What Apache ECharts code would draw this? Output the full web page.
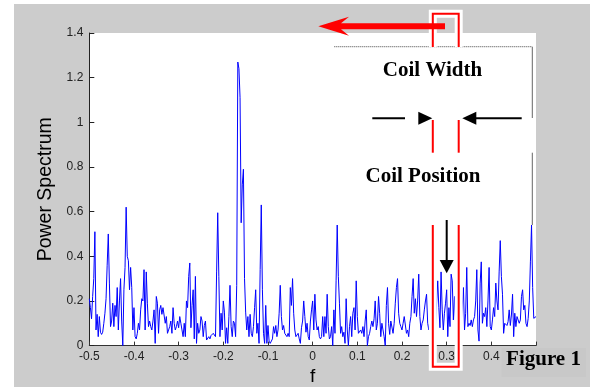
<!DOCTYPE html>
<html><head><meta charset="utf-8">
<script src="https://cdn.jsdelivr.net/npm/echarts@6/dist/echarts.min.js"></script>
<style>
html,body{margin:0;padding:0;background:#fff;width:595px;height:387px;overflow:hidden}
#c{position:absolute;left:14px;top:4px;width:576px;height:383px}
</style>
</head><body><div id="c"></div>
<script>
// frequency grid of the spectrum
const fStart = -0.5, fStep = 0.0025;
// power spectrum values
const power = [
0.21,0.17,0.12,0.22,0.30,0.51,0.07,0.14,0.04,0.13,
0.06,0.05,0.06,0.10,0.145,0.21,0.36,0.50,0.28,0.085,
0.11,0.19,0.085,0.18,0.13,0.26,0.07,0.20,0.30,0.11,
0.00,0.25,0.35,0.62,0.40,0.38,0.25,0.35,0.26,0.07,
0.17,0.04,0.03,0.055,0.10,0.07,0.16,0.21,0.20,0.34,
0.07,0.33,0.19,0.085,0.11,0.085,0.07,0.11,0.16,0.01,
0.22,0.19,0.055,0.16,0.18,0.14,0.17,0.17,0.10,0.13,
0.055,0.07,0.085,0.11,0.055,0.17,0.10,0.07,0.085,0.11,
0.08,0.13,0.10,0.07,0.04,0.10,0.04,0.20,0.17,0.31,
0.37,0.08,0.18,0.25,0.03,0.31,0.01,0.10,0.055,0.07,
0.13,0.11,0.04,0.09,0.11,0.025,0.03,0.04,0.03,0.045,
0.04,0.055,0.055,0.04,0.33,0.595,0.31,0.04,0.145,0.07,
0.20,0.15,0.01,0.08,0.01,0.13,0.27,0.085,0.04,0.11,
0.10,0.04,0.27,1.27,1.24,1.11,0.55,0.72,0.79,0.30,
0.15,0.07,0.13,0.04,0.14,0.055,0.04,0.085,0.17,0.25,
0.055,0.10,0.01,0.34,0.63,0.25,0.055,0.01,0.18,0.01,
0.09,0.02,0.01,0.01,0.03,0.085,0.055,0.09,0.04,0.07,
0.145,0.27,0.13,0.07,0.09,0.055,0.06,0.04,0.055,0.04,
0.26,0.18,0.30,0.145,0.07,0.04,0.04,0.055,0.03,0.01,
0.08,0.11,0.20,0.13,0.06,0.10,0.04,0.025,0.11,0.16,
0.20,0.07,0.23,0.115,0.07,0.085,0.04,0.03,0.04,0.13,
0.04,0.13,0.055,0.23,0.085,0.03,0.04,0.085,0.0,0.16,
0.055,0.29,0.54,0.31,0.19,0.055,0.085,0.04,0.06,0.01,
0.21,0.07,0.0,0.085,0.13,0.04,0.145,0.17,0.07,0.29,
0.13,0.055,0.055,0.07,0.055,0.085,0.04,0.11,0.16,0.0,
0.04,0.055,0.085,0.11,0.085,0.12,0.20,0.07,0.10,0.22,
0.145,0.04,0.10,0.07,0.04,0.0,0.18,0.26,0.10,0.05,
0.11,0.11,0.055,0.10,0.19,0.26,0.30,0.145,0.10,0.085,
0.07,0.10,0.13,0.13,0.055,0.07,0.04,0.10,0.13,0.22,
0.30,0.145,0.21,0.13,0.20,0.32,0.13,0.07,0.10,0.115,
0.16,0.20,0.23,0.10,0.07,0.12,0.08,0.15,0.10,0.18,
0.09,0.085,0.29,0.17,0.08,0.33,0.16,0.07,0.145,0.19,
0.25,0.04,0.17,0.085,0.32,0.29,0.115,0.22,0.10,0.085,
0.12,0.07,0.15,0.10,0.10,0.26,0.07,0.145,0.35,0.085,
0.10,0.09,0.115,0.085,0.115,0.13,0.20,0.34,0.07,0.02,
0.28,0.375,0.10,0.145,0.13,0.17,0.085,0.20,0.35,0.085,
0.07,0.115,0.17,0.13,0.28,0.20,0.16,0.33,0.47,0.31,
0.23,0.055,0.10,0.10,0.09,0.107,0.16,0.09,0.137,0.23,
0.04,0.145,0.085,0.13,0.137,0.10,0.115,0.22,0.25,0.16,
0.18,0.10,0.085,0.122,0.20,0.375,0.54,0.26,0.122,0.13,
0.13
];
const xTickLabels = ['-0.5','-0.4','-0.3','-0.2','-0.1','0','0.1','0.2','0.3','0.4','0.5'];
const yTickLabels = ['0','0.2','0.4','0.6','0.8','1','1.2','1.4'];
const xTitle = 'f';
const yTitle = 'Power Spectrum';
const notes = { width: 'Coil Width', position: 'Coil Position', fig: 'Figure 1' };

const OX = 14, OY = 4;
const P = (x, y) => [x - OX, y - OY];

const chart = echarts.init(document.getElementById('c'), null, { renderer: 'canvas' });
const seriesData = power.map((v, i) => [fStart + i * fStep, v]);

const red = '#ff0000';
const halo = (pts) => ({ type: 'polyline', z: 100, shape: { points: pts.map(p => P(p[0], p[1])) },
  style: { stroke: '#fff', lineWidth: 8, fill: null, lineJoin: 'miter' } });
const redLine = (pts) => ({ type: 'polyline', z: 101, shape: { points: pts.map(p => P(p[0], p[1])) },
  style: { stroke: red, lineWidth: 2, fill: null, lineJoin: 'miter' } });
const seg = (x1, y1, x2, y2, style) => ({ type: 'line', z: 100,
  shape: { x1: x1 - OX, y1: y1 - OY, x2: x2 - OX, y2: y2 - OY }, style });
const poly = (pts, fill, z) => ({ type: 'polygon', z: z || 102, shape: { points: pts.map(p => P(p[0], p[1])) },
  style: { fill, stroke: null } });
const txt = (s, x, y, size, align) => ({ type: 'text', z: 103, x: x - OX, y: y - OY,
  style: { text: s, font: 'bold ' + size + 'px "Liberation Serif", "Times New Roman", serif',
    fill: '#000', align: align || 'center', verticalAlign: 'middle' } });

const topPts = [[432.8, 47], [432.8, 13.7], [458.7, 13.7], [458.7, 47]];
const botPts = [[432.8, 225], [432.8, 366.7], [458.7, 366.7], [458.7, 225]];

chart.setOption({
  backgroundColor: '#cccccc',
  animation: false,
  grid: { left: 89.3 - OX, top: 33 - OY, width: 446.7, height: 312.6, show: true,
    backgroundColor: '#ffffff', borderWidth: 0, containLabel: false, outerBoundsMode: 'none' },
  xAxis: {
    type: 'value', min: -0.5, max: 0.5, interval: 0.1,
    name: xTitle, nameLocation: 'middle', nameGap: 19,
    nameTextStyle: { fontFamily: 'Liberation Sans', fontSize: 19, color: '#000' },
    axisLine: { show: true, onZero: false, lineStyle: { color: '#333', width: 1 } },
    axisTick: { show: true, inside: true, length: 4, lineStyle: { color: '#333' } },
    axisLabel: { fontFamily: 'Liberation Sans', fontSize: 12, color: '#222', margin: 5,
      formatter: v => xTickLabels[Math.round((v + 0.5) / 0.1)] },
    splitLine: { show: false }
  },
  yAxis: {
    type: 'value', min: 0, max: 1.4, interval: 0.2,
    name: yTitle, nameLocation: 'middle', nameGap: 29,
    nameTextStyle: { fontFamily: 'Liberation Sans', fontSize: 19.5, color: '#000' },
    axisLine: { show: true, onZero: false, lineStyle: { color: '#222', width: 1 } },
    axisTick: { show: true, inside: true, length: 5, lineStyle: { color: '#222' } },
    axisLabel: { fontFamily: 'Liberation Sans', fontSize: 12, color: '#222', margin: 6,
      formatter: v => yTickLabels[Math.round(v / 0.2)] },
    splitLine: { show: false }
  },
  series: [{
    type: 'line', data: seriesData, showSymbol: false, symbol: 'none',
    lineStyle: { color: '#0000ff', width: 1 }, z: 2
  }],
  graphic: { elements: [
    // annotation box border
    seg(334.3, 46.7, 532.3, 46.7, { stroke: '#444', lineWidth: 1, lineDash: [1, 1] }),
    seg(532.3, 46.7, 532.3, 118, { stroke: '#666', lineWidth: 1 }),
    seg(532.3, 152.7, 532.3, 225, { stroke: '#666', lineWidth: 1 }),
    // coil rectangles (white halo + red)
    halo(topPts), redLine(topPts),
    halo(botPts), redLine(botPts),
    redLine([[432.8, 120], [432.8, 152.7]]),
    redLine([[458.7, 120], [458.7, 152.7]]),
    // big red arrow
    poly([[318.3, 26.3], [349, 16.8], [341, 23.3], [445, 23.3], [445, 29.3], [341, 29.3], [349, 35.8]], red),
    // black arrows
    seg(372.3, 118.3, 405, 118.3, { stroke: '#000', lineWidth: 2 }),
    poly([[432.3, 118.3], [418.3, 111.8], [418.3, 124.8]], '#000'),
    seg(476, 118.3, 521.7, 118.3, { stroke: '#000', lineWidth: 2 }),
    poly([[462.3, 118.3], [476.3, 111.8], [476.3, 124.8]], '#000'),
    seg(446.7, 220, 446.7, 261, { stroke: '#000', lineWidth: 2 }),
    poly([[446.7, 273.3], [439.7, 260], [453.7, 260]], '#000'),
    // texts
    txt(notes.width, 432.5, 71, 21),
    txt(notes.position, 423, 177, 21),
    { type: 'rect', z: 102, shape: { x: 501.7 - OX, y: 348 - OY, width: 84.3, height: 29 },
      style: { fill: '#c8c8c8', stroke: null } },
    txt(notes.fig, 543.5, 360, 21)
  ] }
});
</script>
</body></html>
